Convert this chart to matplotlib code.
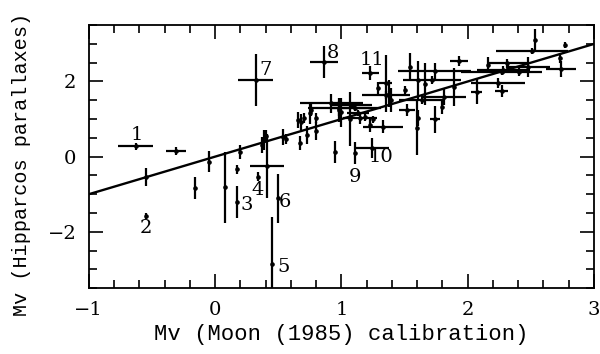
import numpy as np
import matplotlib
matplotlib.use("Agg")
import matplotlib.pyplot as plt
from matplotlib.ticker import MultipleLocator

# Mv from Moon (1985) calibration, Mv from Hipparcos parallaxes, and errors
mv_moon = [-0.63, -0.31, -0.55, -0.55, -0.16, -0.05, 0.08, 0.17, 0.17, 0.20,
           0.34, 0.41, 0.50, 0.45, 0.32, 0.86, 1.23, 1.11, 1.24, 0.39,
           0.37, 0.40, 0.54, 0.56, 0.67, 0.68, 0.66, 0.70, 0.73, 0.75,
           0.76, 0.80, 0.80, 0.95, 0.98, 1.07, 0.92, 0.98, 1.15, 1.33,
           1.23, 1.35, 1.29, 1.38, 1.35, 1.60, 1.61, 1.74, 1.80, 1.81,
           1.52, 1.54, 1.74, 1.93, 1.66, 1.89, 1.72, 1.64, 2.07, 2.24,
           2.27, 2.16, 2.31, 2.32, 2.41, 2.28, 2.53, 2.51, 2.77, 2.73,
           2.74, 2.48, 1.39, 1.50, 1.61, 1.00, 1.08, 1.11, 1.13, 1.19,
           1.25, 2.27]
mv_hip = [0.27, 0.15, -1.58, -0.55, -0.84, -0.13, -0.82, -0.34, -1.20, 0.13,
          -0.53, -0.25, -1.11, -2.86, 2.04, 2.51, 2.23, 0.09, 0.23, 0.44,
          0.31, 0.55, 0.52, 0.47, 0.36, 0.93, 0.98, 1.02, 0.58, 1.15,
          1.24, 1.02, 0.67, 0.13, 1.24, 1.00, 1.42, 1.29, 1.02, 0.80,
          0.84, 1.64, 1.82, 1.68, 1.95, 0.76, 1.02, 1.00, 1.33, 1.58,
          1.24, 2.39, 2.28, 2.55, 1.93, 1.86, 2.04, 1.51, 1.73, 1.95,
          1.76, 2.44, 2.48, 2.35, 2.26, 2.31, 3.10, 2.82, 2.97, 2.62,
          2.33, 2.39, 1.51, 1.77, 2.04, 1.18, 1.37, 1.29, 1.15, 1.05,
          0.99, 2.26]
err_moon = [0.14, 0.08, 0, 0, 0, 0, 0, 0, 0, 0,
            0, 0.135, 0, 0, 0.135, 0.11, 0.07, 0, 0.14, 0,
            0, 0, 0, 0, 0, 0, 0, 0, 0, 0,
            0, 0, 0, 0, 0, 0, 0.25, 0.245, 0.135, 0.16,
            0, 0.19, 0, 0, 0.05, 0, 0, 0.04, 0, 0.175,
            0.06, 0, 0.29, 0.07, 0, 0, 0.23, 0.18, 0.04, 0.21,
            0.05, 0, 0.16, 0, 0, 0.21, 0, 0.285, 0, 0,
            0.12, 0.17, 0, 0, 0, 0, 0.165, 0.2, 0.085, 0,
            0, 0.32]
err_hip = [0.10, 0.10, 0.09, 0.24, 0.29, 0.27, 0.94, 0.13, 0.43, 0.19,
           0.13, 0.85, 0.66, 1.25, 0.69, 0.43, 0.19, 0.29, 0.27, 0.27,
           0.21, 0.16, 0.21, 0.13, 0.19, 0.21, 0.21, 0.13, 0.24, 0.27,
           0.16, 0.13, 0.24, 0.29, 0.32, 0.72, 0.25, 0.20, 0.15, 0.17,
           0.19, 0.11, 0.16, 0.35, 0.75, 0.72, 0.21, 0.36, 0.19, 0.21,
           0.16, 0.36, 0.21, 0.13, 0.56, 0.50, 0.10, 0.10, 0.33, 0.13,
           0.16, 0.21, 0.13, 0.13, 0.11, 0.11, 0.29, 0.08, 0.08, 0.13,
           0.21, 0.27, 0.31, 0.10, 0.50, 0.38, 0.08, 0.08, 0.08, 0.10,
           0.10, 0.08]

# numbered outliers
lab_text = ["1", "2", "3", "4", "5", "6", "7", "8", "9", "10", "11"]
lab_x = [-0.62, -0.55, 0.25, 0.34, 0.54, 0.55, 0.40, 0.93, 1.11, 1.31, 1.24]
lab_y = [0.58, -1.90, -1.29, -0.90, -2.93, -1.20, 2.30, 2.76, -0.55, 0.0, 2.56]

# one-to-one line
line_x = [-1, 3]
line_y = [-1, 3]

num_font = "DejaVu Serif"
lab_font = "Liberation Mono"

fig = plt.figure(figsize=(6.0, 3.54), dpi=100)
ax = fig.add_axes([0.148, 0.186, 0.842, 0.743])

ax.errorbar(mv_moon, mv_hip, xerr=err_moon, yerr=err_hip, fmt='o', ms=2.3,
            color='k', ecolor='k', elinewidth=1.6, capsize=0)
ax.plot(line_x, line_y, color='k', lw=1.7)

for t, tx, ty in zip(lab_text, lab_x, lab_y):
    ax.text(tx, ty, t, fontsize=14, family=num_font, ha='center', va='center')

ax.set_xlim(-1, 3)
ax.set_ylim(-3.5, 3.5)
ax.xaxis.set_major_locator(MultipleLocator(1))
ax.xaxis.set_minor_locator(MultipleLocator(0.2))
ax.yaxis.set_major_locator(MultipleLocator(2))
ax.yaxis.set_minor_locator(MultipleLocator(0.5))
ax.tick_params(which='both', direction='in', top=True, right=True, width=1.2)
ax.tick_params(which='major', length=10, pad=9, labelsize=14)
ax.tick_params(which='minor', length=5.5)
for lb in ax.get_xticklabels() + ax.get_yticklabels():
    lb.set_family(num_font)
for s in ax.spines.values():
    s.set_linewidth(1.3)

ax.set_xlabel("Mv (Moon (1985) calibration)", family=lab_font, fontsize=16,
              labelpad=4)
ax.set_ylabel("Mv (Hipparcos parallaxes)", family=lab_font, fontsize=14.5)
ax.yaxis.set_label_coords(-0.115, 0.47)

fig.savefig("out.png", dpi=100)
